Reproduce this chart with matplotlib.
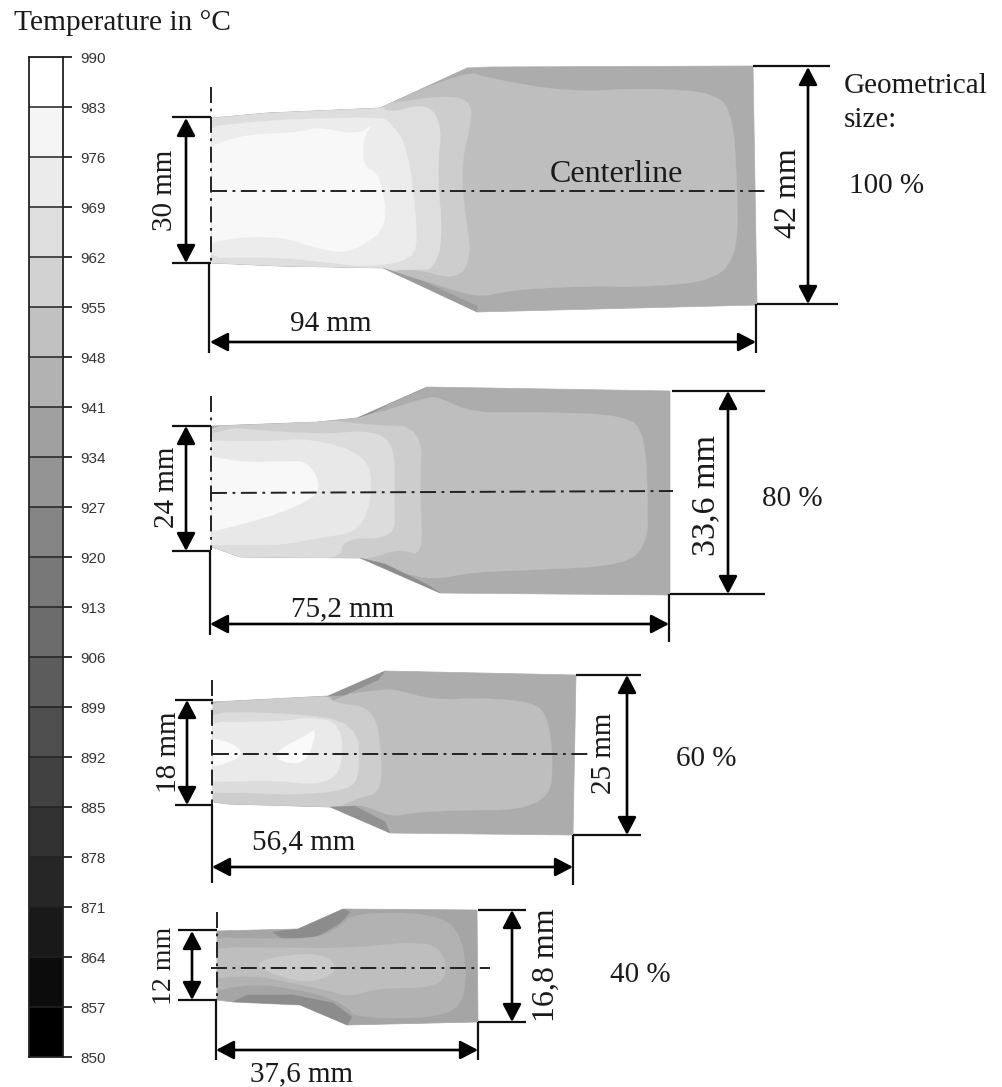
import matplotlib
matplotlib.use("Agg")
import matplotlib.pyplot as plt
import numpy as np

plt.rcParams['lines.scale_dashes'] = False
W, H = 1003, 1087
SERIF = ['Liberation Serif', 'DejaVu Serif']

# ---- temperature scale ----
temp_levels = [850, 857, 864, 871, 878, 885, 892, 899, 906, 913, 920, 927, 934,
               941, 948, 955, 962, 969, 976, 983, 990]
level_grays = [0, 12, 25, 38, 50, 65, 78, 92, 108, 120, 132, 148, 160, 178,
               193, 210, 222, 235, 245, 255]

# ---- specimen contours: (gray, outline), back to front ----
spec100 = [
    (172, [(212,118),(267,113),(380,108),(467,68),(490,67),(753,66),(757,305),(477,312),(383,268),(277,266),(212,263)]),
    (190, [(380,107),(467,71),(487,78),(567,92),(650,88),(717,93),(733,117),(737,183),(738,250),(717,280),(650,287),(583,286),(510,290),(477,298),(433,283),(385,271),(277,270),(185,268),(185,112)]),
    (205, [(185,112),(267,109),(380,105),(447,95),(472,102),(470,127),(462,160),(463,200),(472,257),(457,280),(417,269),(383,271),(277,270),(185,268)]),
    (222, [(185,112),(267,109),(380,105),(390,113),(427,103),(442,125),(437,170),(443,240),(433,270),(417,269),(380,271),(277,270),(185,268)]),
    (236, [(185,130),(267,120),(380,117),(390,122),(408,147),(418,233),(413,260),(367,267),(333,263),(277,257),(185,258)]),
    (248, [(185,158),(237,135),(297,133),(317,127),(357,135),(373,124),(363,138),(363,167),(380,173),(388,227),(360,247),(340,253),(313,247),(283,237),(233,237),(185,250)]),
    (155, [(383,268),(477,312),(477,306),(425,282)]),
]
spec80 = [
    (172, [(212,426),(317,422),(357,418),(427,387),(670,391),(670,595),(440,593),(360,558),(240,557),(212,547)]),
    (190, [(360,419),(427,397),(440,398),(473,413),(533,412),(627,415),(645,435),(648,508),(647,542),(627,565),(533,570),(473,572),(433,580),(400,572),(360,562),(240,561),(185,552),(185,422)]),
    (205, [(185,422),(317,419),(370,425),(422,427),(420,492),(423,557),(400,548),(360,562),(240,561),(185,552)]),
    (220, [(185,424),(317,435),(372,430),(395,445),(394,502),(395,538),(343,538),(340,561),(240,560),(185,550)]),
    (232, [(185,440),(267,442),(310,438),(367,455),(373,492),(360,532),(317,538),(283,545),(233,545),(185,545)]),
    (248, [(185,450),(240,463),(290,461),(307,462),(320,482),(315,498),(267,518),(185,538)]),
    (145, [(357,418),(427,387),(412,391),(372,413)]),
    (140, [(360,558),(440,593),(428,585),(385,564)]),
]
spec60 = [
    (172, [(213,702),(328,696),(385,671),(576,675),(573,835),(390,833),(330,807),(227,804),(213,802)]),
    (190, [(330,696),(382,690),(393,689),(433,700),(483,698),(533,702),(548,717),(553,760),(550,797),(517,810),(467,810),(417,812),(390,817),(360,803),(330,811),(227,808),(185,806)]),
    (205, [(185,698),(328,694),(333,703),(375,708),(382,760),(380,793),(360,797),(330,811),(227,808),(185,806)]),
    (220, [(185,712),(293,713),(357,723),(360,773),(350,790),(293,795),(233,792),(185,795)]),
    (234, [(185,722),(283,722),(307,717),(342,723),(342,773),(317,785),(273,780),(185,783)]),
    (250, [(185,735),(238,743),(242,760),(185,772)]),
    (250, [(317,728),(307,763),(283,763),(273,753),(307,735)]),
    (145, [(328,696),(385,671),(378,680),(345,695)]),
    (145, [(330,807),(390,833),(385,822),(355,806)]),
]
spec40 = [
    (165, [(217,931),(298,929),(343,909),(477,910),(478,1022),(347,1025),(300,1005),(233,1002),(217,1000)]),
    (140, [(273,932),(298,929),(343,909),(350,912),(340,923),(317,937),(283,939)]),
    (140, [(233,1002),(300,1005),(347,1025),(352,1017),(333,1003),(293,995),(247,995)]),
    (178, [(195,937),(273,939),(317,938),(340,927),(353,913),(433,913),(463,933),(467,1000),(440,1018),(357,1018),(347,1007),(327,997),(300,990),(253,983),(195,995)]),
    (190, [(195,947),(300,948),(350,948),(413,942),(440,947),(448,973),(433,988),(377,988),(350,997),(327,990),(293,983),(253,975),(195,980)]),
    (202, [(252,962),(300,953),(330,957),(338,972),(310,983),(273,975)]),
]
specimens = [spec100, spec80, spec60, spec40]

# ---- dimension annotations ----
# text, x, y, rotation, size
labels = [
    ("Temperature in °C", 122, 23, 0, 21.2),
    ("Centerline", 616, 175, 0, 23),
    ("Geometrical", 844, 86, 0, 21), ("size:", 844, 120, 0, 21),
    ("100 %", 887, 186, 0, 21), ("80 %", 792, 499, 0, 21),
    ("60 %", 706, 759, 0, 21), ("40 %", 640, 975, 0, 21),
    ("30 mm", 165, 190, 90, 21), ("94 mm", 331, 324, 0, 21), ("42 mm", 789, 193, 90, 23),
    ("24 mm", 167, 487, 90, 21), ("75,2 mm", 343, 609, 0, 21), ("33,6 mm", 706, 495, 90, 24.5),
    ("18 mm", 169, 752, 90, 21), ("56,4 mm", 304, 842, 0, 21), ("25 mm", 604, 753, 90, 21),
    ("12 mm", 165, 966, 90, 20), ("37,6 mm", 302, 1074, 0, 21), ("16,8 mm", 546, 965, 90, 23),
]
solid_lines = [
    ((172,211),(117,117)), ((172,211),(263,263)), ((209,209),(263,353)),
    ((753,830),(66,66)), ((757,838),(304,304)), ((756,756),(304,353)),
    ((172,211),(426,426)), ((172,211),(551,551)), ((210,210),(551,635)),
    ((672,765),(391,391)), ((670,765),(594,594)), ((669,669),(594,642)),
    ((175,213),(700,700)), ((175,213),(805,805)), ((212,212),(805,883)),
    ((576,641),(675,675)), ((573,641),(835,835)), ((573,573),(835,885)),
    ((178,217),(930,930)), ((178,217),(1000,1000)), ((216,216),(1000,1060)),
    ((478,526),(910,910)), ((478,526),(1022,1022)), ((478,478),(1022,1060)),
]
arrows = [
    ((186,118),(186,263)), ((210,342),(756,342)), ((808,67),(808,304)),
    ((186,426),(186,551)), ((210,624),(669,624)), ((728,391),(728,594)),
    ((187,700),(187,805)), ((212,867),(573,867)), ((627,675),(627,835)),
    ((192,931),(192,1000)), ((216,1050),(478,1050)), ((512,910),(512,1022)),
]
center_lines = [
    ((211,765),(191,191)), ((211,673),(493,491)), ((213,588),(754,754)), ((211,490),(968,968)),
    ((211,211),(87,263)), ((211,211),(396,550)), ((212,212),(680,805)), ((217,217),(912,1000)),
]


def rounded(pts, passes=2):
    """Corner-cut an outline so the contour edges are soft, as in the FE plot."""
    p = np.array(pts, float)
    for _ in range(passes):
        q = np.roll(p, -1, axis=0)
        p = np.column_stack([0.75*p + 0.25*q, 0.25*p + 0.75*q]).reshape(-1, 2)
    return p


fig = plt.figure(figsize=(W/100, H/100), dpi=100, facecolor='white')
ax = fig.add_axes([0, 0, 1, 1])
ax.set_xlim(0, W); ax.set_ylim(H, 0); ax.axis('off')

for spec in specimens:
    outer = None
    for gray, pts in spec:
        if outer is None:
            xs, ys = zip(*pts)
            outer = ax.fill(xs, ys, color=str(gray/255), lw=0.5, zorder=1)[0]
        else:
            p = np.array(pts, float) if gray < 160 else rounded(pts)
            patch = ax.fill(p[:, 0], p[:, 1], color=str(gray/255), lw=0.3, zorder=1)[0]
            patch.set_clip_path(outer)

for xs, ys in solid_lines:
    ax.plot(xs, ys, color='#111111', lw=1.6, solid_capstyle='butt', zorder=3)
for a, b in arrows:
    ax.annotate('', xy=b, xytext=a, zorder=3,
                arrowprops=dict(arrowstyle='<|-|>,head_length=0.4,head_width=0.21', mutation_scale=27,
                                color='black', lw=1.9, shrinkA=0, shrinkB=0))
for xs, ys in center_lines:
    ax.plot(xs, ys, color='#222222', lw=1.4, linestyle=(0, (11.5, 4, 2, 4)), zorder=2)
for txt, x, y, rot, size in labels:
    ha = 'left' if txt in ("Geometrical", "size:") else 'center'
    ax.text(x, y, txt, ha=ha, va='center', rotation=rot, fontsize=size,
            family=SERIF, color='#1a1a1a', zorder=4)

# temperature scale on its own value axis
cb = fig.add_axes([29/W, 1-1057/H, 34/W, 1000/H])
colors = [str(g/255) for g in level_grays]
cb.bar(0, np.diff(temp_levels), bottom=temp_levels[:-1], width=1, color=colors, align='edge')
cb.set_xlim(0, 1); cb.set_ylim(850, 990)
cb.set_xticks([])
cb.yaxis.tick_right()
cb.set_yticks(temp_levels)
cb.set_yticklabels([str(t) for t in temp_levels], family=['Liberation Sans'], fontsize=11, color='#333333')
cb.tick_params(axis='y', length=6.5, width=1.3, color='#222222', pad=6, direction='out')
cb.hlines(temp_levels, 0, 1, color='#222222', lw=1.1)
for s in cb.spines.values():
    s.set_linewidth(1.3); s.set_color('#222222')

fig.savefig('out.png', dpi=100)
